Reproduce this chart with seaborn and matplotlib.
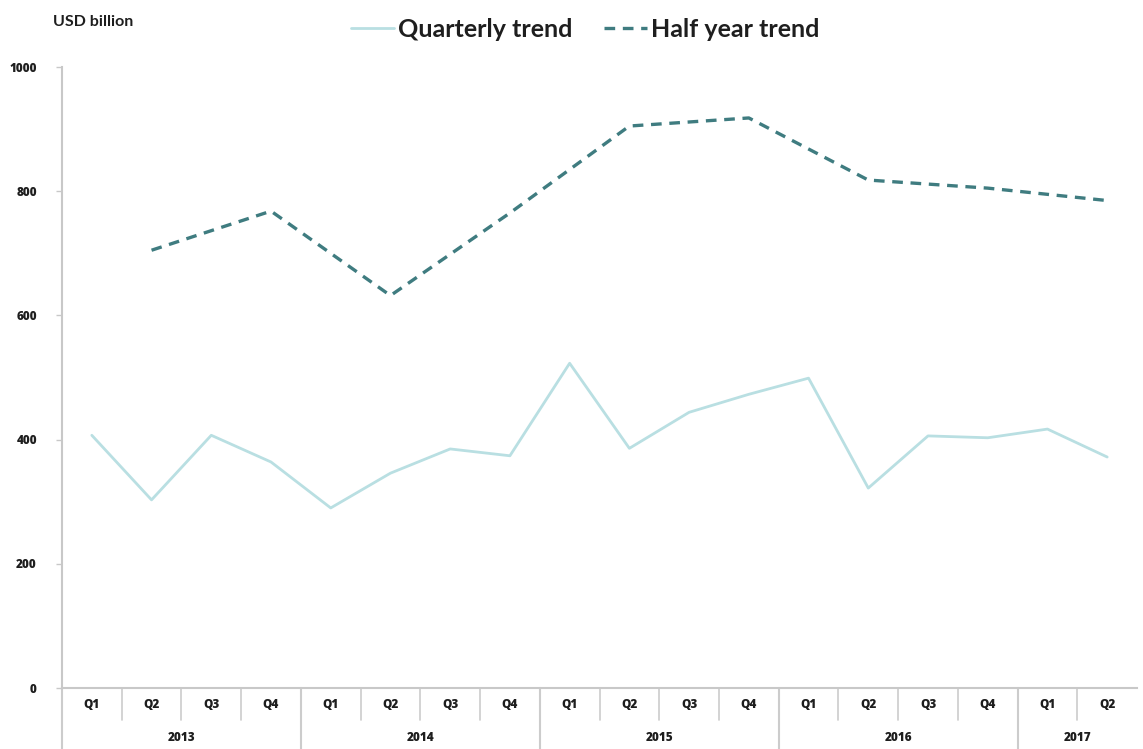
import numpy as np
import pandas as pd
import seaborn as sns
import matplotlib.pyplot as plt
from matplotlib.lines import Line2D

# Quarter / year categories
years = ["2013", "2014", "2015", "2016", "2017"]
quarters_per_year = [4, 4, 4, 4, 2]
quarter_labels = ["Q1", "Q2", "Q3", "Q4"] * 4 + ["Q1", "Q2"]

# USD billion per quarter
quarterly = [407, 303, 407, 364, 290, 346, 385, 374, 523, 386,
             444, 473, 499, 322, 406, 403, 417, 372]

# Half-year trend, reported at Q2 and Q4
half_year = [None, 705, None, 768, None, 632, None, 765, None, 905,
             None, 918, None, 818, None, 805, None, 785]

y_ticks = [0, 200, 400, 600, 800, 1000]

sns.set_theme(style="white")
plt.rcParams["font.family"] = ["Open Sans", "DejaVu Sans"]

pos = np.arange(len(quarter_labels))
df = pd.concat([
    pd.DataFrame({"pos": pos, "value": quarterly, "series": "Quarterly trend"}),
    pd.DataFrame({"pos": pos, "value": half_year, "series": "Half year trend"}),
]).dropna()
df["value"] = df["value"].astype(float)

q_color = "#b9dfe2"
h_color = "#3f7c80"
txt_color = "#1e1e1e"

fig = plt.figure(figsize=(11.43, 7.49), dpi=100)
ax = fig.add_axes([0.0542, 0.0814, 0.9406, 0.8291])

sns.lineplot(data=df, x="pos", y="value", hue="series", style="series",
             palette={"Quarterly trend": q_color, "Half year trend": h_color},
             dashes={"Quarterly trend": "", "Half year trend": (3.2, 2.3)},
             sort=True, legend=False, ax=ax)
for line in ax.get_lines():
    if line.get_color() == q_color:
        line.set_linewidth(2.0)
    else:
        line.set_linewidth(2.4)

ax.set_xlim(-0.5, len(pos) - 0.5)
ax.set_ylim(0, 1000)
ax.set_xlabel("")
ax.set_ylabel("")

# y axis
ax.set_yticks(y_ticks)
ax.set_yticklabels([str(t) for t in y_ticks], fontsize=8.5, fontweight="heavy",
                   color=txt_color)
ax.tick_params(axis="y", length=4, width=1, color="#c8c8c8", pad=14, left=True)
ax.set_xticks([])

for side in ["top", "right"]:
    ax.spines[side].set_visible(False)
for side in ["left", "bottom"]:
    ax.spines[side].set_color("#c8c8c8")
    ax.spines[side].set_linewidth(1.5)

# two-level category axis
trans = ax.get_xaxis_transform()
sep_color = "#cccccc"
for i, q in enumerate(quarter_labels):
    ax.text(i, -0.028, q, transform=trans, ha="center", va="center",
            fontsize=8.5, fontweight="heavy", color=txt_color)

year_edges = np.cumsum([0] + quarters_per_year) - 0.5
for i in range(1, len(pos)):
    x = i - 0.5
    if x in year_edges:
        continue
    ax.plot([x, x], [0, -0.052], transform=trans, color=sep_color, lw=1.2,
            clip_on=False)
for x in year_edges[:-1]:
    ax.plot([x, x], [0, -0.11], transform=trans, color=sep_color, lw=1.5,
            clip_on=False)
for k, yr in enumerate(years):
    xc = (year_edges[k] + year_edges[k + 1]) / 2
    ax.text(xc, -0.081, yr, transform=trans, ha="center", va="center",
            fontsize=8.5, fontweight="heavy", color=txt_color)

# unit label and legend
fig.text(0.046, 0.970, "USD billion", ha="left", va="center", fontsize=11.5,
         fontweight="bold", color=txt_color, family=["Lato", "DejaVu Sans"])

handles = [Line2D([], [], color=q_color, lw=2.0),
           Line2D([], [], color=h_color, lw=2.4, dashes=(3.2, 2.3))]
leg = fig.legend(handles, ["Quarterly trend", "Half year trend"], ncol=2,
                 loc="center", bbox_to_anchor=(0.512, 0.961), frameon=False,
                 handlelength=1.7, handletextpad=0.15, columnspacing=1.3,
                 prop={"family": "Lato", "weight": "bold", "size": 18})
for t in leg.get_texts():
    t.set_color(txt_color)

fig.savefig("out.png", dpi=100)
